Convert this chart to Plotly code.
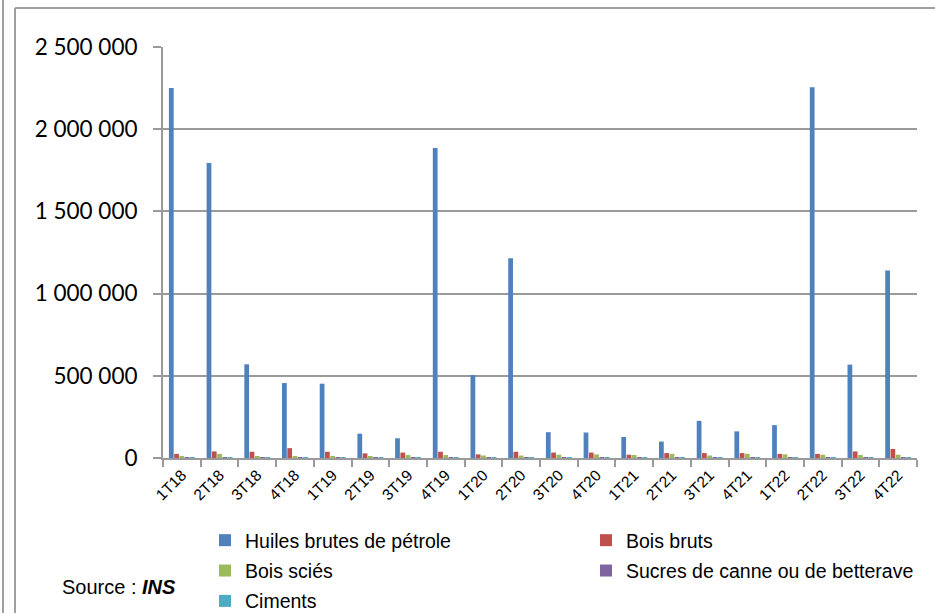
import plotly.graph_objects as go

categories = ["1T18", "2T18", "3T18", "4T18", "1T19", "2T19", "3T19", "4T19",
              "1T20", "2T20", "3T20", "4T20", "1T21", "2T21", "3T21", "4T21",
              "1T22", "2T22", "3T22", "4T22"]

huiles = [2250000, 1795000, 570000, 456000, 452000, 148000, 120000, 1885000,
          505000, 1215000, 157000, 155000, 128000, 100000, 226000, 162000,
          200000, 2255000, 568000, 1140000]
bois_bruts = [25000, 40000, 38000, 60000, 38000, 28000, 33000, 38000,
              22000, 38000, 33000, 33000, 20000, 30000, 30000, 30000,
              25000, 25000, 40000, 55000]
bois_scies = [10000, 25000, 12000, 8000, 12000, 8000, 18000, 18000,
              15000, 15000, 20000, 22000, 18000, 25000, 15000, 25000,
              22000, 20000, 18000, 20000]
sucres = [3000, 2000, 3000, 2000, 2000, 3000, 2000, 3000,
          2000, 2000, 3000, 2000, 2000, 3000, 2000, 2000,
          3000, 2000, 3000, 2000]
ciments = [2000, 1500, 2000, 1500, 1500, 2000, 1500, 2000,
           1500, 1500, 2000, 1500, 1500, 2000, 1500, 1500,
           2000, 1500, 2000, 1500]

series = [
    ("Huiles brutes de pétrole", huiles, "#4F81BD", "legend"),
    ("Bois bruts", bois_bruts, "#C0504D", "legend2"),
    ("Bois sciés", bois_scies, "#9BBB59", "legend"),
    ("Sucres de canne ou de betterave", sucres, "#8064A2", "legend2"),
    ("Ciments", ciments, "#4BACC6", "legend"),
]

y_ticks = [0, 500000, 1000000, 1500000, 2000000, 2500000]
y_labels = ["0", "500 000", "1 000 000", "1 500 000", "2 000 000", "2 500 000"]

fig = go.Figure()
for name, vals, col, leg in series:
    fig.add_trace(go.Bar(x=categories, y=vals, name=name, legend=leg, legendgroup=name,
                         marker=dict(color=col, line=dict(width=0))))

W, H = 935, 613
L, R, T, B = 163, 18, 47, 155
pw, ph = W - L - R, H - T - B

def px(x):
    return (x - L) / pw

def py(y):
    return (H - B - y) / ph

NARROW = "Liberation Sans Narrow, Arial Narrow, Liberation Sans, Arial"
GRID = "#9a9a9a"

leg_common = dict(orientation="v", xref="container", yref="container",
                  xanchor="left", yanchor="top", tracegroupgap=2,
                  font=dict(size=19.5, family=NARROW),
                  itemwidth=30, bgcolor="rgba(0,0,0,0)", borderwidth=0)

fig.update_layout(
    width=W, height=H,
    margin=dict(l=L, r=R, t=T, b=B, pad=0, autoexpand=False),
    paper_bgcolor="white", plot_bgcolor="white",
    barmode="group", bargap=0.3, bargroupgap=0.1,
    font=dict(family=NARROW, color="black"),
    showlegend=True,
    legend=dict(x=205 / W, y=1 - 521 / H, **leg_common),
    legend2=dict(x=586 / W, y=1 - 521 / H, **leg_common),
    xaxis=dict(showline=True, linecolor=GRID, linewidth=2,
               ticks="outside", tickson="boundaries", ticklen=7, tickcolor=GRID, tickwidth=2,
               tickangle=-45, tickfont=dict(size=15.5), showgrid=False),
    yaxis=dict(range=[0, 2500000], tickvals=y_ticks, ticktext=y_labels,
               showline=True, linecolor=GRID, linewidth=2,
               ticks="outside", ticklen=8, tickcolor=GRID, tickwidth=2,
               showgrid=True, gridcolor=GRID, gridwidth=2,
               zeroline=False,
               tickfont=dict(size=22.5, family="Lato, Open Sans, sans-serif"),
               ticklabelstandoff=11),
)

# outer frame lines
fig.add_shape(type="line", xref="paper", yref="paper", x0=px(3), x1=px(3), y0=py(0), y1=py(613),
              line=dict(color="#a0a0a0", width=2))
fig.add_shape(type="line", xref="paper", yref="paper", x0=px(15), x1=px(15), y0=py(8), y1=py(613),
              line=dict(color="#a0a0a0", width=2))
fig.add_shape(type="line", xref="paper", yref="paper", x0=px(15), x1=px(935), y0=py(8), y1=py(8),
              line=dict(color="#a0a0a0", width=2))

fig.add_annotation(xref="paper", yref="paper", x=px(60), y=py(587), xanchor="left", yanchor="middle",
                   text="Source : <b><i>INS</i></b>", showarrow=False,
                   font=dict(size=20, family=NARROW))

fig.write_html("out.html", config={"displayModeBar": False},
               post_script="document.body.style.margin='0';")
